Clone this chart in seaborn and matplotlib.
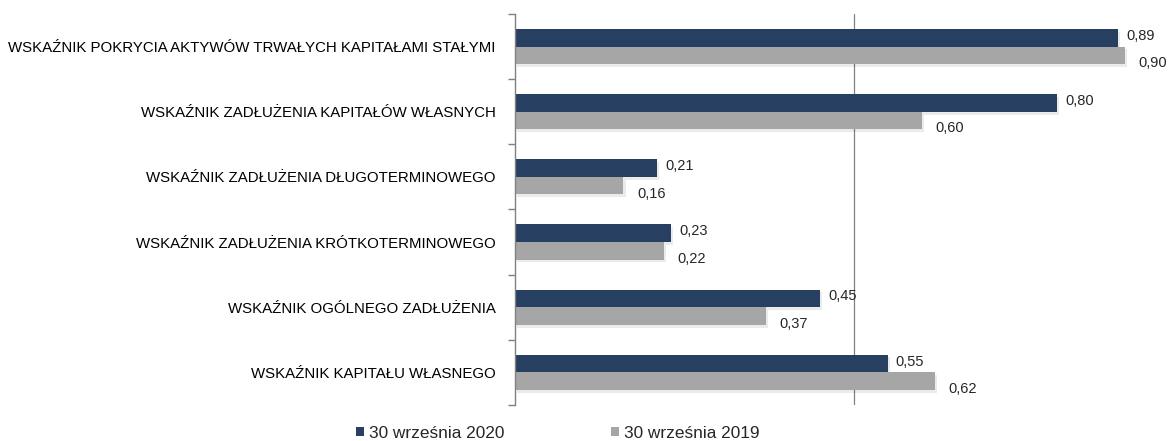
import pandas as pd
import numpy as np
import matplotlib.pyplot as plt
import matplotlib.patheffects as pe
import seaborn as sns

# ---------------------------------------------------------
# DATA
# ---------------------------------------------------------

kategorie = [
    "WSKAŹNIK POKRYCIA AKTYWÓW TRWAŁYCH KAPITAŁAMI STAŁYMI",
    "WSKAŹNIK ZADŁUŻENIA KAPITAŁÓW WŁASNYCH",
    "WSKAŹNIK ZADŁUŻENIA DŁUGOTERMINOWEGO",
    "WSKAŹNIK ZADŁUŻENIA KRÓTKOTERMINOWEGO",
    "WSKAŹNIK OGÓLNEGO ZADŁUŻENIA",
    "WSKAŹNIK KAPITAŁU WŁASNEGO",
]

serie = ["30 września 2020", "30 września 2019"]

wartosci_2020 = [0.89, 0.80, 0.21, 0.23, 0.45, 0.55]
wartosci_2019 = [0.90, 0.60, 0.16, 0.22, 0.37, 0.62]

kolory = ["#273F60", "#A6A6A6"]

df = pd.DataFrame({
    "kategoria": kategorie * 2,
    "okres": [serie[0]] * len(kategorie) + [serie[1]] * len(kategorie),
    "wartosc": wartosci_2020 + wartosci_2019,
})

# ---------------------------------------------------------
# STYLE
# ---------------------------------------------------------

sns.set_style("white")
plt.rcParams["font.family"] = ["Liberation Sans", "DejaVu Sans"]

fig = plt.figure(figsize=(11.76, 4.41), dpi=100)
ax = fig.add_axes([0.438, 0.082, 0.562, 0.886])

sns.barplot(
    data=df,
    y="kategoria",
    x="wartosc",
    hue="okres",
    palette=kolory,
    orient="h",
    width=0.54,
    saturation=1,
    linewidth=0,
    ax=ax,
)

# soft shadow like the original
for cont in ax.containers:
    for p in cont:
        p.set_path_effects([
            pe.SimplePatchShadow(offset=(1.5, -2), shadow_rgbFace="#000000", alpha=0.08),
            pe.Normal(),
        ])

ax.set_xlim(0, 0.9756)
ax.set_ylim(5.5, -0.5)
ax.axvline(0.5, color="#808080", lw=0.9, zorder=0)

# ---------------------------------------------------------
# AXES
# ---------------------------------------------------------

for s in ["top", "right", "bottom"]:
    ax.spines[s].set_visible(False)
ax.spines["left"].set_color("#808080")
ax.spines["left"].set_linewidth(1.0)

ax.set_xticks([])
ax.set_xlabel("")
ax.set_ylabel("")
ax.set_yticks(range(len(kategorie)))
ax.set_yticklabels(kategorie, fontsize=10.85, color="#000000")
ax.tick_params(axis="y", length=0, pad=14)
ax.set_yticks(np.arange(-0.5, len(kategorie)), minor=True)
ax.tick_params(axis="y", which="minor", left=True, length=5, width=1,
               color="#808080", direction="out")

# ---------------------------------------------------------
# LABELS
# ---------------------------------------------------------

for i, cont in enumerate(ax.containers):
    for p in cont:
        w = p.get_width()
        yc = p.get_y() + p.get_height() / 2
        dy = -0.03 if i == 0 else 0.12
        ax.text(
            w + 0.012 + 0.008 * i,
            yc + dy,
            f"{w:.2f}".replace(".", ","),
            va="center",
            ha="left",
            fontsize=10.5,
        )

# ---------------------------------------------------------
# LEGEND
# ---------------------------------------------------------

handles, labels = ax.get_legend_handles_labels()
ax.legend(
    handles,
    labels,
    loc="center",
    bbox_to_anchor=(0.474, 0.018),
    bbox_transform=fig.transFigure,
    ncol=2,
    frameon=False,
    fontsize=12.4,
    handlelength=0.5,
    handleheight=0.5,
    handletextpad=0.25,
    columnspacing=6.2,
)

fig.savefig("out.png", dpi=100)
